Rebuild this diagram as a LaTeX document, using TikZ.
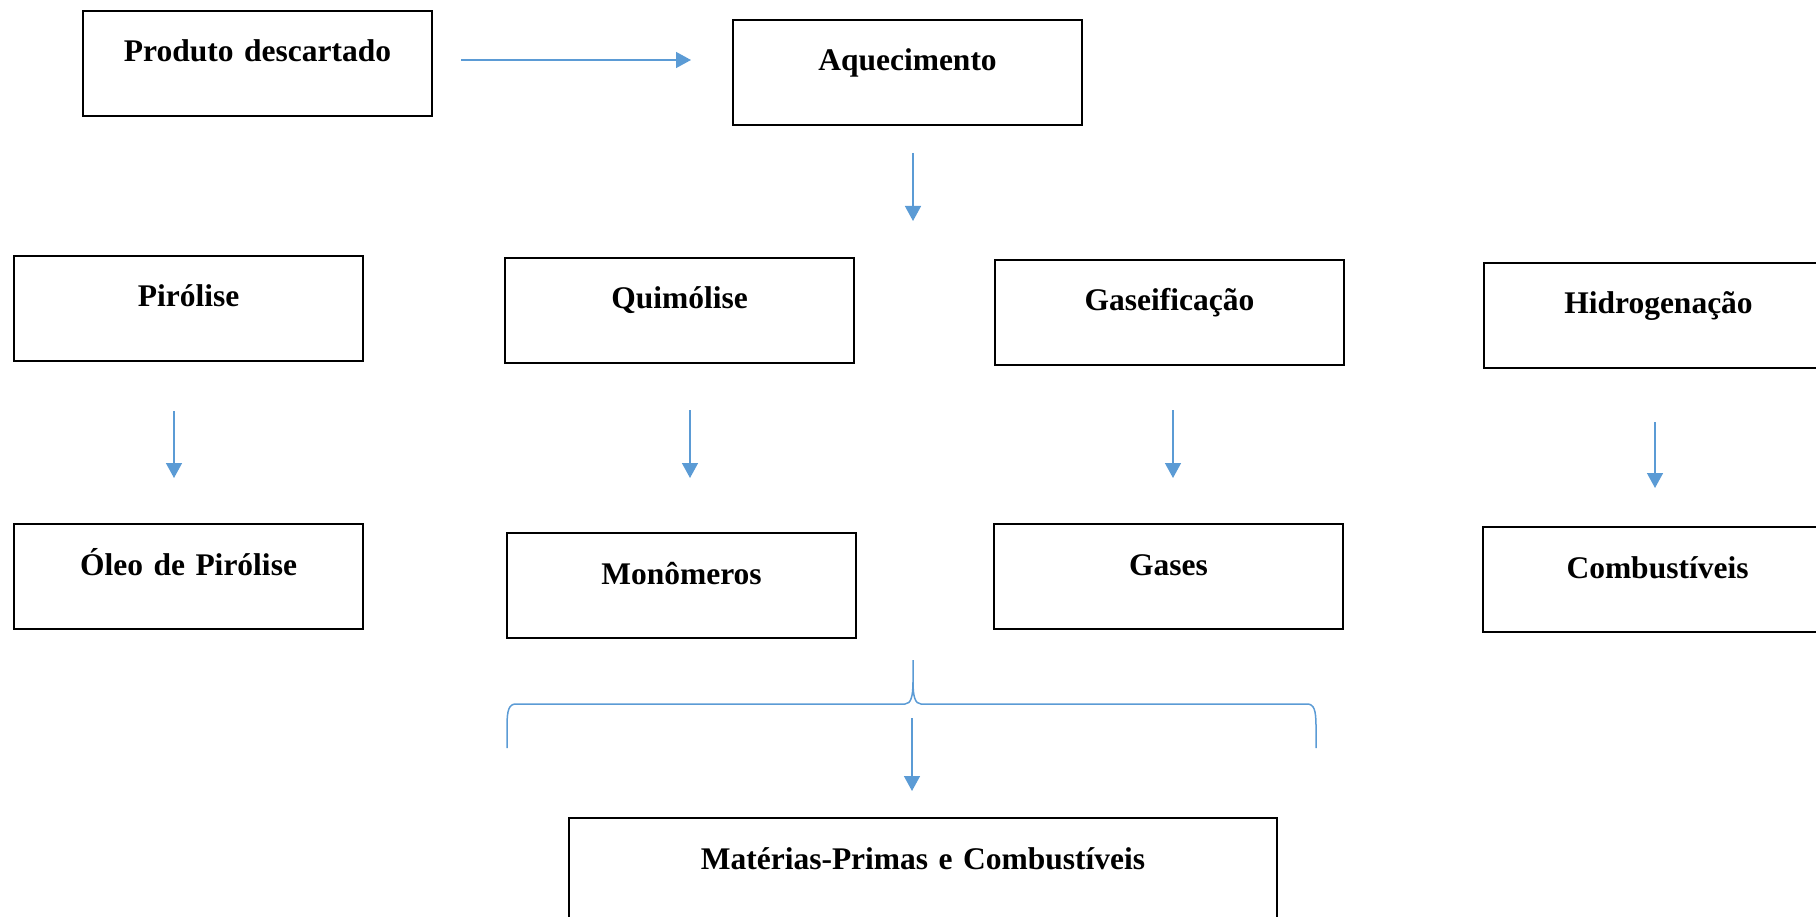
\documentclass[tikz,border=0pt]{standalone}
\usepackage{fontspec}
\setmainfont{Liberation Serif}
\usetikzlibrary{arrows.meta}
\definecolor{flowblue}{RGB}{91,155,213}
\begin{document}
\begin{tikzpicture}[x=1pt,y=-1pt,
  procbox/.style={draw=black, line width=2pt, inner sep=0pt, anchor=north west,
    text width=349pt, align=center, text height=51pt, text depth=54pt,
    font=\fontsize{31.5}{38}\selectfont\bfseries},
  flow/.style={draw=flowblue, line width=1.5pt, -{Triangle[width=16pt,length=15pt]}},
  bracket/.style={draw=flowblue, line width=1.5pt}]
\useasboundingbox (0,0) rectangle (1816,917);

% process boxes
\node[procbox] (prod)  at (82,10)   {Produto descartado};
\node[procbox] (aq)    at (732,19)  {Aquecimento};
\node[procbox] (pir)   at (13,255)  {Pirólise};
\node[procbox] (qui)   at (504,257) {Quimólise};
\node[procbox] (gas)   at (994,259) {Gaseificação};
\node[procbox] (hid)   at (1483,262){Hidrogenação};
\node[procbox] (oleo)  at (13,523)  {Óleo de Pirólise};
\node[procbox] (mono)  at (506,532) {Monômeros};
\node[procbox] (gases) at (993,523) {Gases};
\node[procbox] (comb)  at (1482,526){Combustíveis};
\node[procbox, text width=708pt, text depth=80pt] (mat) at (568,817) {Matérias-Primas e Combustíveis};

% arrow end points
\coordinate (a1s) at (461,60);   \coordinate (a1e) at (691,60);
\coordinate (a2s) at (913,153);  \coordinate (a2e) at (913,221);
\coordinate (p1s) at (174,411);  \coordinate (p1e) at (174,478);
\coordinate (q1s) at (690,410);  \coordinate (q1e) at (690,478);
\coordinate (g1s) at (1173,410); \coordinate (g1e) at (1173,478);
\coordinate (h1s) at (1655,422); \coordinate (h1e) at (1655,488);
\coordinate (m1s) at (912,718);  \coordinate (m1e) at (912,791);

\draw[flow] (a1s) -- (a1e);
\draw[flow] (a2s) -- (a2e);
\draw[flow] (p1s) -- (p1e);
\draw[flow] (q1s) -- (q1e);
\draw[flow] (g1s) -- (g1e);
\draw[flow] (h1s) -- (h1e);
\draw[flow] (m1s) -- (m1e);

% brace gathering the products
\draw[bracket] (507,748) -- (507,726)
  .. controls (507,710) and (509,704) .. (516,704)
  -- (905,704)
  .. controls (911,704) and (913,696) .. (913,682)
  -- (913,660)
  (913,682)
  .. controls (913,696) and (915,704) .. (921,704)
  -- (1307,704)
  .. controls (1314,704) and (1316,710) .. (1316,726)
  -- (1316,748);
\end{tikzpicture}
\end{document}
